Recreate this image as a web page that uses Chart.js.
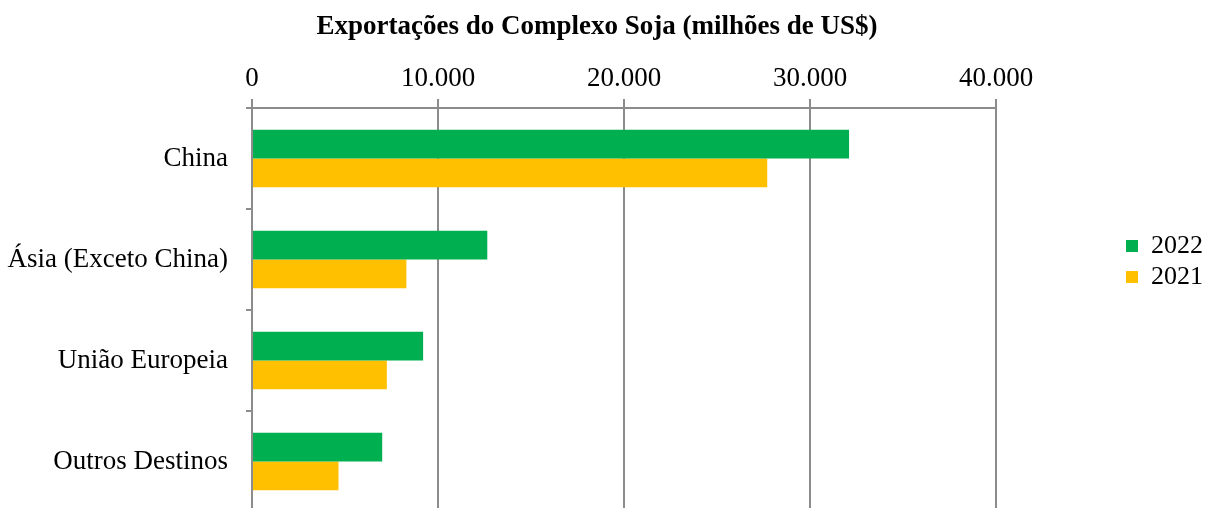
<!DOCTYPE html>
<html>
<head>
<meta charset="utf-8">
<script src="https://cdn.jsdelivr.net/npm/chart.js@4/dist/chart.umd.min.js"></script>
<style>
    html, body { margin: 0; padding: 0; background: #fff; overflow: hidden; }
    canvas { display: block; }
</style>
</head>
<body>
<canvas id="soja" width="1205" height="512"></canvas>
<script>
const destinos = ['China', 'Ásia (Exceto China)', 'União Europeia', 'Outros Destinos']
const exp2022 = [32100, 12650, 9200, 7000]
const exp2021 = [27700, 8300, 7250, 4650]
const xTicks = [0, 10000, 20000, 30000, 40000]

const gridGray = '#8c8c8c'
const serif = 'Liberation Serif'

// put legend and title where they sit in the original picture
const placeBoxes = {
    id: 'placeBoxes',
    afterLayout(chart) {
        const lg = chart.legend
        const w = lg.width, h = lg.height
        lg.left = 1121
        lg.right = lg.left + w
        lg.top = 228
        lg.bottom = lg.top + h
        const tt = chart.titleBlock
        tt.left = 0
        tt.right = 1194
    }
}

const milhar = v => v.toString().replace(/\B(?=(\d{3})+(?!\d))/g, '.')

const chart_soja = document.getElementById('soja')
new Chart(chart_soja, {
    type: 'bar',
    data: {
        labels: destinos,
        datasets: [{
            label: '2022',
            data: exp2022,
            backgroundColor: '#00b050',
            borderWidth: 0
        }, {
            label: '2021',
            data: exp2021,
            backgroundColor: '#ffc000',
            borderWidth: 0
        }]
    },
    options: {
        indexAxis: 'y',
        responsive: false,
        animation: false,
        categoryPercentage: 0.57,
        barPercentage: 1.0,
        layout: { padding: { left: 0, right: 209, top: 0, bottom: 0 } },
        plugins: {
            title: {
                display: true,
                text: 'Exportações do Complexo Soja (milhões de US$)',
                color: '#000',
                font: { family: serif, size: 27, weight: 'bold' },
                padding: { top: 11, bottom: 0 }
            },
            legend: {
                position: 'chartArea',
                align: 'start',
                labels: {
                    color: '#000',
                    font: { family: serif, size: 26 },
                    boxWidth: 12,
                    boxHeight: 12,
                    padding: 5
                }
            },
            tooltip: { enabled: false }
        },
        scales: {
            x: {
                position: 'top',
                min: 0,
                max: 40000,
                afterBuildTicks: s => { s.ticks = xTicks.map(v => ({ value: v })) },
                afterFit: s => { s.height = 108 - 43.4 },
                ticks: {
                    color: '#000',
                    font: { family: serif, size: 27 },
                    padding: 4,
                    maxRotation: 0,
                    callback: v => milhar(v)
                },
                grid: { color: gridGray, lineWidth: 2, tickLength: 9 },
                border: { color: gridGray, width: 2 }
            },
            y: {
                afterFit: s => {
                    s.width = 252
                    s.paddingTop = 0
                    s.paddingBottom = 0
                },
                ticks: {
                    color: '#000',
                    font: { family: serif, size: 27 },
                    padding: 18
                },
                grid: { drawOnChartArea: false, offset: true, color: gridGray, lineWidth: 2, tickLength: 6 },
                border: { color: gridGray, width: 2 }
            }
        }
    },
    plugins: [placeBoxes]
})
</script>
</body>
</html>
